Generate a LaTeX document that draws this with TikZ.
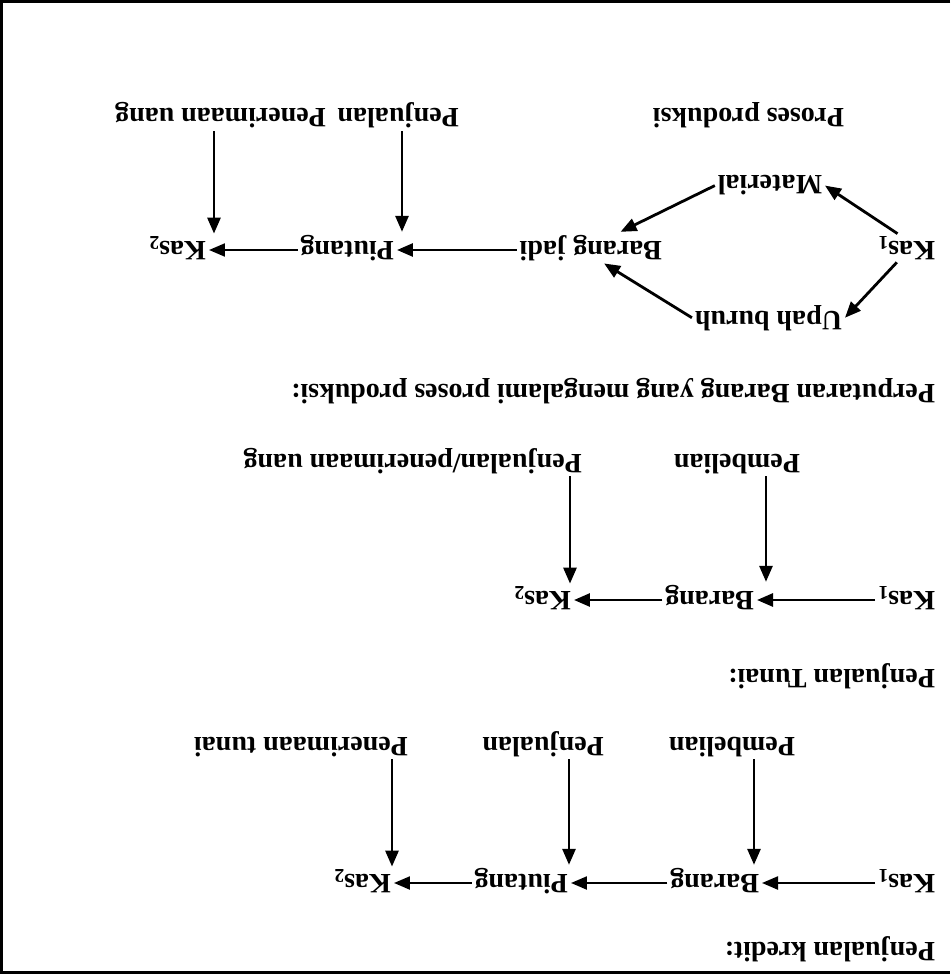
\documentclass[tikz,border=0pt]{standalone}
\usepackage{fontspec}
\setmainfont{Liberation Serif}
\usetikzlibrary{arrows.meta}
\begin{document}
\begin{tikzpicture}[x=1pt,y=1pt,rotate=180,transform shape,
  lbl/.style={inner sep=0pt,outer sep=3pt,anchor=base west,font=\bfseries\fontsize{28}{32}\selectfont},
  arr/.style={line width=2.8pt,-{Triangle[length=16pt,width=13pt]}},
  thinarr/.style={arr,line width=2.2pt}]
\useasboundingbox (0,0) rectangle (950,976);
\draw[line width=3pt] (0,2) -- (948,2) -- (948,972) -- (0,972);
% --- production cycle (shown at top) ---
\node[lbl] (proses) at (103,109) {Proses produksi};
\node[lbl] (penj1) at (488,109) {Penjualan};
\node[lbl] (pener1) at (621,109) {Penerimaan uang};
\node[lbl] (mat) at (125,176) {Material};
\node[lbl] (kas1a) at (12,241) {Kas\textsubscript{1}};
\node[lbl] (bj) at (285,241) {Barang jadi};
\node[lbl] (piu1) at (553,241) {Piutang};
\node[lbl] (kas2a) at (741,241) {Kas\textsubscript{2}};
\node[lbl] (upah) at (105,311) {Upah buruh};
\coordinate (r1) at (0,250);
\coordinate (x1) at (548,0);
\coordinate (x2) at (736,0);
\draw[arr] (kas1a.-58) -- (mat.west);
\draw[arr] (kas1a.56) -- (upah.west);
\draw[arr] (mat.east) -- (bj.208);
\draw[arr] (upah.east) -- (bj.130);
\draw[arr] (bj.east |- r1) -- (piu1.west |- r1);
\draw[thinarr] (piu1.east |- r1) -- (kas2a.west |- r1);
\draw[arr] (penj1.north -| x1) -- (piu1.south -| x1);
\draw[arr] (pener1.north -| x2) -- (kas2a.south -| x2);
% --- cash sale ---
\node[lbl] (t1) at (12,384) {Perputaran Barang yang mengalami proses produksi:};
\node[lbl] (pemb2) at (147,454) {Pembelian};
\node[lbl] (pjpu) at (365,454) {Penjualan/penerimaan uang};
\node[lbl] (kas1b) at (12,591) {Kas\textsubscript{1}};
\node[lbl] (barb) at (193,591) {Barang};
\node[lbl] (kas2b) at (376,591) {Kas\textsubscript{2}};
\coordinate (r2) at (0,600);
\coordinate (x3) at (184,0);
\coordinate (x4) at (380,0);
\draw[arr] (kas1b.east |- r2) -- (barb.west |- r2);
\draw[arr] (barb.east |- r2) -- (kas2b.west |- r2);
\draw[arr] (pemb2.north -| x3) -- (barb.south -| x3);
\draw[arr] (pjpu.north -| x4) -- (kas2b.south -| x4);
% --- credit sale ---
\node[lbl] (t2) at (12,669) {Penjualan Tunai:};
\node[lbl] (pemb3) at (152,737) {Pembelian};
\node[lbl] (penj3) at (343,737) {Penjualan};
\node[lbl] (pener3) at (539,737) {Penerimaan tunai};
\node[lbl] (kas1c) at (12,874) {Kas\textsubscript{1}};
\node[lbl] (barc) at (188,874) {Barang};
\node[lbl] (piuc) at (379,874) {Piutang};
\node[lbl] (kas2c) at (556,874) {Kas\textsubscript{2}};
\node[lbl] (t3) at (12,942) {Penjualan kredit:};
\coordinate (r3) at (0,883);
\coordinate (x5) at (196,0);
\coordinate (x6) at (381,0);
\coordinate (x7) at (558,0);
\draw[thinarr] (kas1c.east |- r3) -- (barc.west |- r3);
\draw[thinarr] (barc.east |- r3) -- (piuc.west |- r3);
\draw[thinarr] (piuc.east |- r3) -- (kas2c.west |- r3);
\draw[arr] (pemb3.north -| x5) -- (barc.south -| x5);
\draw[arr] (penj3.north -| x6) -- (piuc.south -| x6);
\draw[arr] (pener3.north -| x7) -- (kas2c.south -| x7);
\end{tikzpicture}
\end{document}
